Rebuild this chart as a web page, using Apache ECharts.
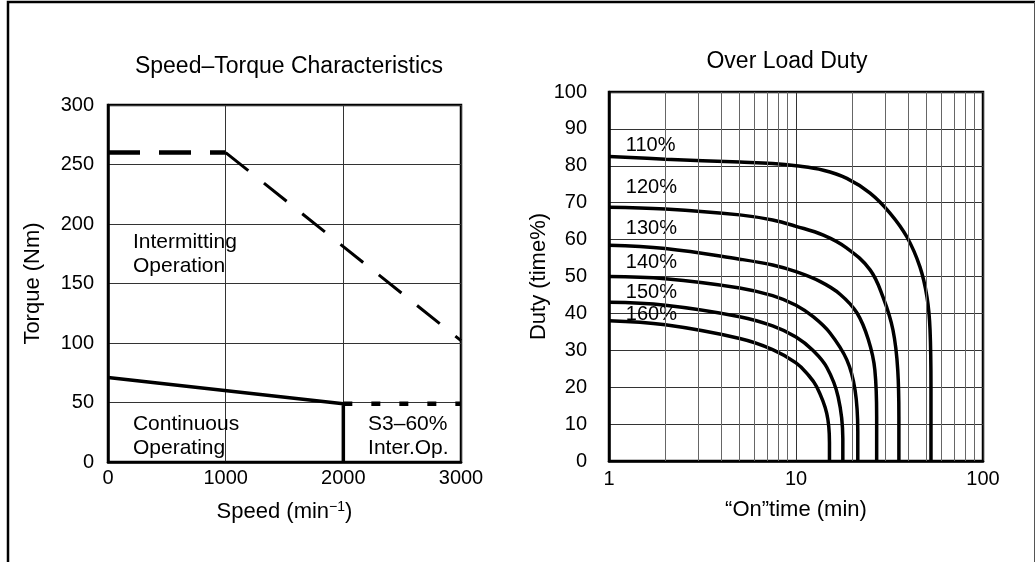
<!DOCTYPE html>
<html>
<head>
<meta charset="utf-8">
<script src="https://cdn.jsdelivr.net/npm/echarts@6/dist/echarts.min.js"></script>
<style>
  html, body { margin: 0; padding: 0; background: #fff; }
  #chart { width: 1036px; height: 562px; }
</style>
</head>
<body>
<div id="chart"></div>
<script>
// ---------- Speed–Torque data ----------
const speedTicks = [0, 1000, 2000, 3000];
const torqueTicks = [0, 50, 100, 150, 200, 250, 300];
const interFlat = [[0, 260], [1000, 260]];            // intermittent, constant torque part
const interSlope = [[1000, 260], [3000, 102]];        // intermittent, falling part
const contLine = [[0, 71], [2000, 49], [2000, 0]];    // continuous operating limit
const s3Line = [[2000, 49], [3000, 49]];              // S3-60% limit
const leftNotes = [
    { text: 'Intermitting\nOperation', pos: [212, 175] },
    { text: 'Continuous\nOperating', pos: [212, 22] },
    { text: 'S3–60%\nInter.Op.', pos: [2210, 22] }
];

// ---------- Over load duty data ----------
const curveNames = ['110%', '120%', '130%', '140%', '150%', '160%'];
const curve110 = [[1, 82.5], [2, 81.8], [5, 81], [7.5, 80.6], [10, 80], [14, 78.8], [18.7, 76.6], [24.9, 72.6], [31.8, 67.2], [39.2, 60.7], [46, 52.6], [50.2, 44.4], [52.1, 35.5], [52.7, 20], [52.7, 0]];
const curve120 = [[1, 68.8], [2, 68.3], [5, 66.7], [7.5, 65.3], [10, 63.6], [14, 61.2], [18.7, 57.7], [24.9, 51.8], [29.2, 44.4], [33, 35.5], [35, 24.7], [35.5, 12], [35.5, 0]];
const curve130 = [[1, 58.5], [2, 57.6], [5, 54.7], [7.5, 53.1], [10, 51.3], [13.5, 48.6], [17.2, 45.2], [21.2, 40.1], [24.4, 32.8], [26.4, 24.7], [27, 12], [27, 0]];
const curve140 = [[1, 50], [2, 49.4], [5, 46.9], [7.5, 44.8], [10, 42.2], [12.5, 38.9], [15.2, 34.7], [18.7, 27.4], [20.7, 19.2], [21.4, 8], [21.4, 0]];
const curve150 = [[1, 43], [2, 42.2], [5, 39.1], [7.5, 36.6], [10, 33.6], [12.3, 30], [14.6, 25.4], [16.8, 17.4], [17.8, 6], [17.8, 0]];
const curve160 = [[1, 38], [2, 36.9], [5, 33.2], [7.5, 30.2], [10, 26.6], [11.5, 23.6], [12.9, 20.1], [14.6, 12.9], [15.1, 5], [15.1, 0]];
const curves = [curve110, curve120, curve130, curve140, curve150, curve160];
const curveLabelY = [85.6, 74, 63.1, 53.7, 45.8, 39.8];
const minorMinutes = [2, 3, 4, 5, 6, 7, 8, 9, 20, 30, 40, 50, 60, 70, 80, 90];

const FONT = 'Liberation Sans, Arial, sans-serif';
const chart = echarts.init(document.getElementById('chart'));

const txt = { fontFamily: FONT, fontSize: 20, color: '#000' };

function noteSeries(notes, xi, size) {
    return {
        type: 'scatter', xAxisIndex: xi, yAxisIndex: xi, symbolSize: 0, silent: true,
        itemStyle: { opacity: 1 },
        data: notes.map(n => ({ value: n.pos, name: n.text })),
        label: { show: true, position: 'right', distance: 0, formatter: '{b}', lineHeight: 24, align: 'left',
                 ...txt, fontSize: size, opacity: 1 }
    };
}

const series = [
    { type: 'line', xAxisIndex: 0, yAxisIndex: 0, data: interFlat, symbol: 'none',
      lineStyle: { color: '#000', width: 4.5, type: [32, 19], cap: 'butt' } },
    { type: 'line', xAxisIndex: 0, yAxisIndex: 0, data: interSlope, symbol: 'none',
      lineStyle: { color: '#000', width: 3, type: [29, 20], cap: 'butt' } },
    { type: 'line', xAxisIndex: 0, yAxisIndex: 0, data: contLine, symbol: 'none',
      lineStyle: { color: '#000', width: 3.5 } },
    { type: 'line', xAxisIndex: 0, yAxisIndex: 0, data: s3Line, symbol: 'none',
      lineStyle: { color: '#000', width: 4.5, type: [9, 19], cap: 'butt' } },
    noteSeries(leftNotes, 0, 21),
    // minor log gridlines
    { type: 'line', xAxisIndex: 1, yAxisIndex: 1, data: [], silent: true,
      markLine: { symbol: 'none', silent: true, label: { show: false },
        lineStyle: { color: '#666', width: 1, type: 'solid' },
        data: minorMinutes.map(v => ({ xAxis: v })) } }
];

curves.forEach(c => {
    series.push({
        type: 'line', xAxisIndex: 1, yAxisIndex: 1, data: c, symbol: 'none',
        smooth: 0.4,
        lineStyle: { color: '#000', width: 3.5 }
    });
});
series.push({
    type: 'scatter', xAxisIndex: 1, yAxisIndex: 1, symbolSize: 0, silent: true,
    itemStyle: { opacity: 1 },
    data: curveNames.map((n, i) => ({ value: [1.23, curveLabelY[i]], name: n })),
    label: { show: true, position: 'right', distance: 0, formatter: '{b}', ...txt, opacity: 1 }
});

chart.setOption({
    animation: false,
    backgroundColor: '#fff',
    title: [
        { text: 'Speed–Torque Characteristics', left: 284, top: 50, textAlign: 'center',
          textStyle: { fontFamily: FONT, fontSize: 23, fontWeight: 'normal', color: '#000' } },
        { text: 'Over Load Duty', left: 782, top: 45, textAlign: 'center',
          textStyle: { fontFamily: FONT, fontSize: 23, fontWeight: 'normal', color: '#000' } }
    ],
    graphic: [
        { type: 'polyline', shape: { points: [[8, 562], [8, 2], [1035, 2]] },
          style: { stroke: '#000', lineWidth: 2.5, fill: null } },
        { type: 'line', shape: { x1: 1034.5, y1: 2, x2: 1034.5, y2: 562 },
          style: { stroke: '#555', lineWidth: 1 } }
    ],
    grid: [
        { left: 108, top: 105, width: 353, height: 357, show: true, borderColor: '#000', borderWidth: 2.5 },
        { left: 609, top: 92, width: 374, height: 369, show: true, borderColor: '#000', borderWidth: 2.5 }
    ],
    xAxis: [
        { type: 'value', gridIndex: 0, min: 0, max: 3000, interval: 1000,
          name: 'Speed (min{sup|−1})', nameLocation: 'middle', nameGap: 38,
          nameTextStyle: { ...txt, fontSize: 22, rich: { sup: { fontFamily: FONT, fontSize: 14, verticalAlign: 'top', padding: [0, 0, 10, 0] } } },
          axisLine: { show: true, lineStyle: { color: '#000', width: 2.5 } },
          axisTick: { show: false },
          axisLabel: { ...txt, margin: 6, formatter: v => speedTicks.includes(v) ? String(v) : '' },
          splitLine: { show: true, lineStyle: { color: '#333', width: 1 } } },
        { type: 'log', gridIndex: 1, min: 1, max: 100, logBase: 10,
          name: '“On”time (min)', nameLocation: 'middle', nameGap: 38,
          nameTextStyle: { ...txt, fontSize: 22 },
          axisLine: { show: true, lineStyle: { color: '#000', width: 2.5 } },
          axisTick: { show: false },
          axisLabel: { ...txt, margin: 8 },
          splitLine: { show: true, lineStyle: { color: '#333', width: 1 } } }
    ],
    yAxis: [
        { type: 'value', gridIndex: 0, min: 0, max: 300, interval: 50,
          name: 'Torque (Nm)', nameLocation: 'middle', nameGap: 64,
          nameTextStyle: { ...txt, fontSize: 22 },
          axisLine: { show: true, lineStyle: { color: '#000', width: 2.5 } },
          axisTick: { show: false },
          axisLabel: { ...txt, margin: 14, padding: [0, 0, 10, 0],
            formatter: v => torqueTicks.includes(v) ? String(v) : '' },
          splitLine: { show: true, lineStyle: { color: '#333', width: 1 } } },
        { type: 'value', gridIndex: 1, min: 0, max: 100, interval: 10,
          name: 'Duty (time%)', nameLocation: 'middle', nameGap: 41,
          nameTextStyle: { ...txt, fontSize: 22 },
          axisLine: { show: true, lineStyle: { color: '#000', width: 2.5 } },
          axisTick: { show: false },
          axisLabel: { ...txt, margin: 22, padding: [0, 0, 12, 0] },
          splitLine: { show: true, lineStyle: { color: '#333', width: 1 } } }
    ],
    series: series
});
</script>
</body>
</html>
